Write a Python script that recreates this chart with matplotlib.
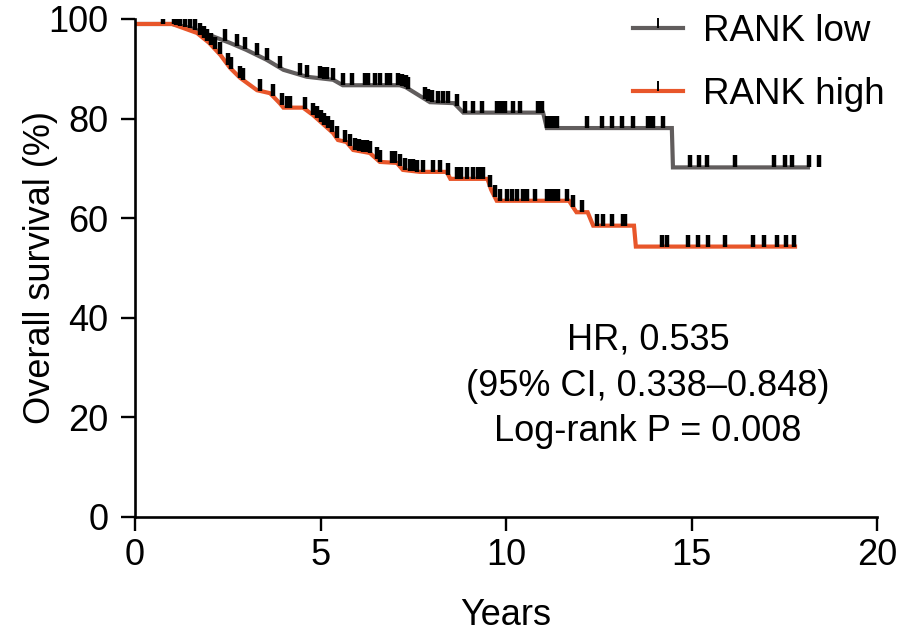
import numpy as np
import matplotlib
matplotlib.use("Agg")
import matplotlib.pyplot as plt
from matplotlib.path import Path
from matplotlib.lines import Line2D

plt.rcParams['font.family'] = ['Liberation Sans', 'DejaVu Sans']
FS = 26

# ---- data ----
low_t = [0, 1.0, 1.5, 2.0, 2.56, 3.0, 3.55, 4.0, 4.18, 4.63, 5.34, 5.6, 7.14, 7.3,
         7.95, 8.6, 8.85, 11.0, 11.1, 14.47, 14.5, 18.14]
low_s = [99, 99, 98.2, 96.8, 95.2, 93.8, 91.8, 89.8, 89.4, 88.4, 87.8, 86.7, 86.7, 86.3,
         83.3, 83.1, 81.2, 81.2, 78.1, 78.1, 70.2, 70.2]
high_t = [0, 1.0, 1.67, 2.0, 2.3, 2.56, 2.83, 3.29, 3.64, 3.9, 4.0, 4.53, 4.8, 5.34,
          5.47, 5.7, 5.88, 6.33, 6.6, 7.06, 7.22, 7.68, 8.4, 8.5, 9.5, 9.6, 9.75,
          11.7, 11.8, 11.9, 12.2, 12.35, 13.45, 13.5, 17.79]
high_s = [99, 99, 97.2, 95.2, 92.8, 90.2, 88.2, 85.7, 85.1, 83.1, 82.2, 82.2, 80.7, 77.1,
          75.7, 75.3, 73.7, 73.1, 71.3, 71.1, 69.7, 69.3, 69.3, 67.9, 67.9, 65.7, 63.5,
          63.5, 62.3, 61.2, 61.2, 58.5, 58.5, 54.3, 54.3]

low_cens = [0.75, 1.05, 1.1, 1.15, 1.2, 1.35, 1.48, 1.62, 2.43, 2.74, 2.96, 3.28, 3.55,
            3.9, 4.45, 4.63, 4.99, 5.1, 5.17, 5.34, 5.6, 5.85, 6.2, 6.28, 6.47, 6.6,
            6.79, 6.87, 7.1, 7.2, 7.3, 7.36, 7.82, 7.9, 8.0, 8.17, 8.3, 8.44, 8.68,
            8.9, 9.11, 9.35, 9.76, 9.86, 9.97, 10.19, 10.38, 10.86, 10.97, 11.1, 11.2,
            11.3, 11.37, 12.18, 12.59, 12.86, 13.13, 13.42, 13.83, 13.9, 13.96, 14.23,
            14.96, 15.2, 15.42, 16.17, 17.22, 17.51, 17.71, 18.17, 18.44]
high_cens = [1.75, 1.85, 1.95, 2.05, 2.16, 2.29, 2.5, 2.6, 2.83, 2.92, 3.37, 3.72, 3.95,
             4.1, 4.18, 4.58, 4.8, 4.9, 5.0, 5.1, 5.2, 5.3, 5.44, 5.66, 5.8, 5.93, 6.05,
             6.15, 6.25, 6.33, 6.52, 6.6, 6.93, 7.0, 7.14, 7.28, 7.4, 7.5, 7.6, 7.76,
             8.03, 8.22, 8.44, 8.68, 8.8, 8.95, 9.1, 9.25, 9.3, 9.38, 9.57, 9.7, 9.84,
             10.03, 10.15, 10.3, 10.45, 10.57, 10.78, 11.1, 11.2, 11.3, 11.4, 11.64,
             11.81, 12.05, 12.45, 12.61, 12.86, 13.15, 13.2, 14.2, 14.34, 14.9, 15.17,
             15.44, 15.9, 16.66, 16.95, 17.3, 17.54, 17.76]

labels = ["RANK low", "RANK high"]
colors = ["#615d5d", "#e8562a"]
x_ticks = [0, 5, 10, 15, 20]
y_ticks = [0, 20, 40, 60, 80, 100]
stats_text = "HR, 0.535\n(95% CI, 0.338\u20130.848)\nLog-rank P = 0.008"

# ---- figure ----
fig = plt.figure(figsize=(9.16, 6.31), dpi=100)
ax = fig.add_axes([135/916, 1-517/631, (877-135)/916, (517-19)/631])

tick_marker = Path([(0, 0), (0, 1)], [Path.MOVETO, Path.LINETO])

series = [(low_t, low_s, low_cens), (high_t, high_s, high_cens)]
for (t, s, c), col, lab in zip(series, colors, labels):
    ax.plot(t, s, color=col, lw=3.0, solid_joinstyle='miter', zorder=2)
    c_arr = np.array([v for v in c if v <= t[-1]])
    c_extra = np.array([v for v in c if v > t[-1]])
    cy = np.interp(c_arr, t, s)
    ax.plot(c_arr, cy, ls='none', marker=tick_marker, ms=18, mew=3.2,
            color='black', zorder=3)
    if len(c_extra):
        ax.plot(c_extra, np.full(len(c_extra), s[-1]), ls='none', marker=tick_marker,
                ms=18, mew=3.2, color='black', zorder=3)

ax.set_xlim(0, 20)
ax.set_ylim(0, 100)
ax.set_xticks(x_ticks)
ax.set_yticks(y_ticks)
ax.tick_params(axis='both', labelsize=FS, width=1.7, length=10, direction='out')
ax.tick_params(axis='x', pad=5)
ax.tick_params(axis='y', pad=9)
for side in ['top', 'right']:
    ax.spines[side].set_visible(False)
for side in ['left', 'bottom']:
    ax.spines[side].set_linewidth(1.9)

ax.set_xlabel("Years", fontsize=FS, labelpad=18)
ax.set_ylabel("Overall survival (%)", fontsize=FS)
ax.yaxis.set_label_coords((58 - 135) / 742, 0.5)

ax.text(13.83, 26.3, stats_text, fontsize=FS, ha='center', va='center',
        linespacing=1.4)

handles = [Line2D([], [], color=col, lw=3.0, marker=tick_marker, ms=14, mew=1.4,
                  mec='black') for col in colors]
ax.legend(handles, labels, loc='upper left', bbox_to_anchor=(0.671, 1.01),
          frameon=False, fontsize=26.5, handlelength=1.36, handletextpad=0.54,
          labelspacing=0.75, borderpad=0, borderaxespad=0, numpoints=1)

fig.savefig("out.png", dpi=100)
